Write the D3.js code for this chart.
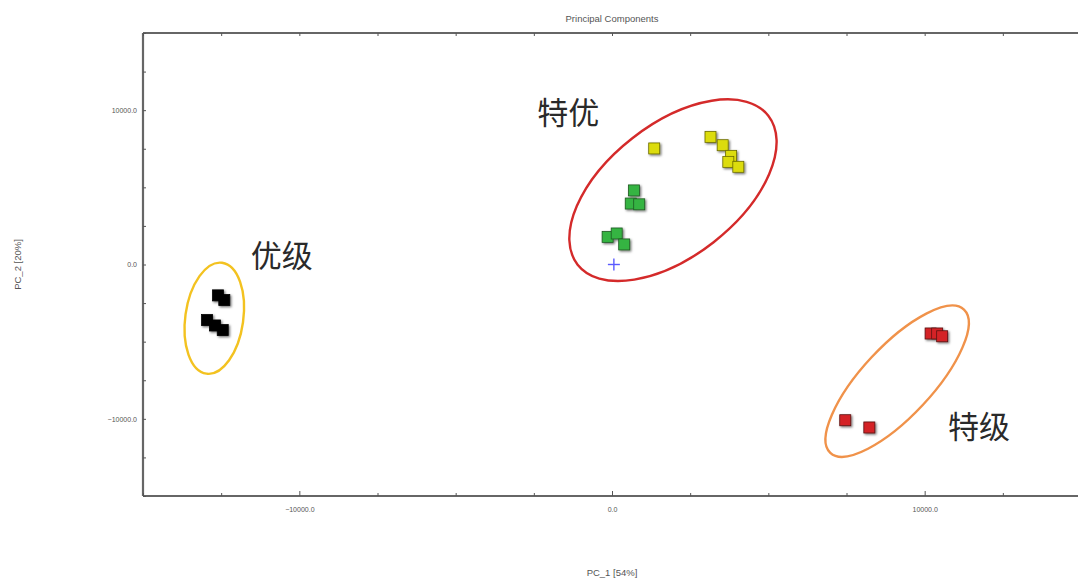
<!DOCTYPE html>
<html>
<head>
<meta charset="utf-8">
<script src="https://cdn.jsdelivr.net/npm/d3@7"></script>
<style>
  html, body { margin: 0; padding: 0; background: #fff; }
  svg { display: block; }
</style>
</head>
<body>
<svg id="chart" width="1078" height="580"></svg>
<script>
// PCA score plot: PC_1 vs PC_2, one colour per sample group
const groupNames = ["优级", "特优-绿", "特优-黄", "特级"];
const groupColors = ["#050505", "#35b443", "#dcdc0a", "#d42428"];
const groupStrokes = ["#000000", "#1f5a22", "#6b6b00", "#5a1010"];

// PC scores for each group: [PC_1, PC_2]
const scoresBlack = [[-12600, -2000], [-12400, -2300], [-12950, -3600], [-12700, -3950], [-12450, -4250]];
const scoresGreen = [[700, 4800], [600, 3950], [870, 3900], [-140, 1790], [150, 2010], [390, 1300]];
const scoresYellow = [[1350, 7520], [3150, 8270], [3540, 7730], [3810, 7040], [3720, 6650], [4040, 6330]];
const scoresRed = [[10190, -4470], [10400, -4470], [10560, -4650], [7460, -10090], [8230, -10560]];
const originMark = [60, 0];

// Axis extents and tick labels
const xDomain = [-15000, 15000];
const yDomain = [-15000, 15000];
const tickStep = 2500;
const labelledTicks = [-10000, 0, 10000];

// Group annotations: label text and centre of the enclosing ellipse
const clusterLabels = ["特优", "优级", "特级"];
const clusterLabelPos = [[-1400, 10000], [-10560, 730], [11740, -10350]];
const ellipseCentres = [[1950, 4815], [-12720, -3480], [9120, -7560]];
const ellipseColors = ["#d42a2a", "#f3c220", "#f0924a"];

const svg = d3.select("#chart");
const W = 1078, H = 580;

const x = d3.scaleLinear().domain(xDomain).range([143, 1081]);
const y = d3.scaleLinear().domain(yDomain).range([496, 33]);

const defs = svg.append("defs");
const f = defs.append("filter").attr("id", "shadow")
  .attr("x", "-50%").attr("y", "-50%").attr("width", "200%").attr("height", "200%");
f.append("feDropShadow").attr("dx", 1.3).attr("dy", 1.3).attr("stdDeviation", 0.8)
  .attr("flood-color", "#000").attr("flood-opacity", 0.55);
const soft = defs.append("filter").attr("id", "soft");
soft.append("feGaussianBlur").attr("stdDeviation", 0.35);

const txt = "'Liberation Sans', Arial, sans-serif";

// Title
svg.append("text").attr("x", 612).attr("y", 22).attr("text-anchor", "middle")
  .attr("font-family", txt).attr("font-size", 9.5).attr("fill", "#555")
  .text("Principal Components");

// Frame lines (left, top, bottom)
const frame = svg.append("g").attr("stroke", "#666").attr("stroke-width", 2.2).attr("filter", "url(#soft)");
const x0 = x(xDomain[0]), y0 = y(yDomain[0]), y1 = y(yDomain[1]), xr = x(xDomain[1]);
frame.append("line").attr("x1", x0).attr("x2", x0).attr("y1", y1).attr("y2", y0);
frame.append("line").attr("x1", x0).attr("x2", xr).attr("y1", y1).attr("y2", y1);
frame.append("line").attr("x1", x0).attr("x2", xr).attr("y1", y0).attr("y2", y0);

// Inward ticks drawn with d3 axes
const ticks = d3.range(xDomain[0], xDomain[1] + 1, tickStep);
const fmt = d => labelledTicks.includes(d) ? d3.format(".1f")(d) : "";

function styleAxis(g) {
  g.select(".domain").remove();
  g.selectAll(".tick line").attr("stroke", "#555").attr("stroke-width", 1);
  g.selectAll(".tick text").attr("font-family", txt).attr("font-size", 7).attr("fill", "#555");
}

const xAxis = svg.append("g").attr("transform", `translate(0,${y0})`)
  .call(d3.axisTop(x).tickValues(ticks).tickSize(3).tickFormat(""));
styleAxis(xAxis);
xAxis.selectAll(".tick line").attr("y2", d => labelledTicks.includes(d) ? -5 : -3);

const xLabels = svg.append("g").attr("transform", `translate(0,${y0})`)
  .call(d3.axisBottom(x).tickValues(labelledTicks).tickSize(0).tickPadding(11).tickFormat(fmt));
styleAxis(xLabels);

const xTop = svg.append("g").attr("transform", `translate(0,${y1})`)
  .call(d3.axisBottom(x).tickValues(ticks).tickSize(3).tickFormat(""));
styleAxis(xTop);

const yAxis = svg.append("g").attr("transform", `translate(${x0},0)`)
  .call(d3.axisRight(y).tickValues(ticks).tickSize(3).tickFormat(""));
styleAxis(yAxis);

const yLabels = svg.append("g").attr("transform", `translate(${x0},0)`)
  .call(d3.axisLeft(y).tickValues(labelledTicks).tickSize(0).tickPadding(6).tickFormat(fmt));
styleAxis(yLabels);

// Axis titles
svg.append("text").attr("x", 612).attr("y", 576).attr("text-anchor", "middle")
  .attr("font-family", txt).attr("font-size", 9.5).attr("fill", "#555")
  .text("PC_1 [54%]");
svg.append("text").attr("transform", `translate(21,${y(0)}) rotate(-90)`)
  .attr("text-anchor", "middle")
  .attr("font-family", txt).attr("font-size", 9.5).attr("fill", "#555")
  .text("PC_2 [20%]");

// Origin marker
const om = svg.append("g").attr("transform", `translate(${x(originMark[0])},${y(originMark[1])})`)
  .attr("stroke", "#5a5aff").attr("stroke-width", 1.4).attr("filter", "url(#soft)");
om.append("line").attr("x1", -6).attr("x2", 6);
om.append("line").attr("y1", -6).attr("y2", 6);

// Sample markers
const groups = [scoresBlack, scoresGreen, scoresYellow, scoresRed];
const side = 11;
groups.forEach((pts, gi) => {
  svg.append("g").attr("filter", "url(#shadow)")
    .selectAll("rect").data(pts).join("rect")
    .attr("x", d => x(d[0]) - side / 2)
    .attr("y", d => y(d[1]) - side / 2)
    .attr("width", side).attr("height", side)
    .attr("fill", groupColors[gi])
    .attr("stroke", groupStrokes[gi]).attr("stroke-width", 0.8);
});

// Ellipses enclosing each grade
const ellipseShape = [[121, 66, -38], [29, 56, 8], [98, 35, -47]];
ellipseCentres.forEach((c, i) => {
  const [rx, ry, ang] = ellipseShape[i];
  svg.append("ellipse")
    .attr("transform", `translate(${x(c[0])},${y(c[1])}) rotate(${ang})`)
    .attr("rx", rx).attr("ry", ry)
    .attr("fill", "none").attr("stroke", ellipseColors[i]).attr("stroke-width", 2.4);
});

// Grade labels
clusterLabels.forEach((t, i) => {
  svg.append("text")
    .attr("x", x(clusterLabelPos[i][0])).attr("y", y(clusterLabelPos[i][1]))
    .attr("text-anchor", "middle").attr("dominant-baseline", "central")
    .attr("font-family", "'Noto Sans CJK SC', sans-serif").attr("font-size", 31)
    .attr("fill", "#2a2a2a")
    .text(t);
});
</script>
</body>
</html>
